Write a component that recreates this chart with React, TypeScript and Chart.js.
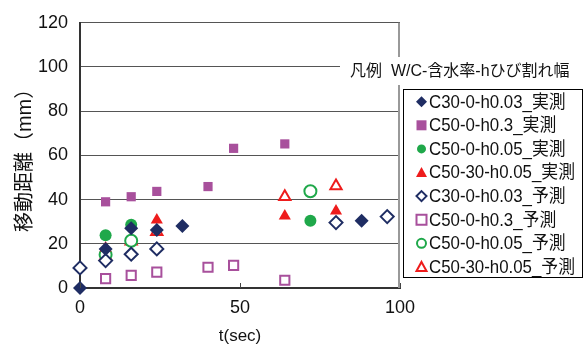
import React, { useEffect, useRef } from "react";
import { Chart, registerables } from "chart.js";

Chart.register(...registerables);

const xTicks = [0, 50, 100];
const yTicks = [0, 20, 40, 60, 80, 100, 120];
const xTitle = "t(sec)";
const yTitle = "移動距離（mm）";
const legendHeader = "凡例  W/C-含水率-hひび割れ幅";

const seriesNames = [
  "C30-0-h0.03_実測",
  "C50-0-h0.3_実測",
  "C50-0-h0.05_実測",
  "C50-30-h0.05_実測",
  "C30-0-h0.03_予測",
  "C50-0-h0.3_予測",
  "C50-0-h0.05_予測",
  "C50-30-h0.05_予測",
];

const c30Meas_t = [0, 8, 16, 24, 32, 88];
const c30Meas_y = [0, 17.7, 27, 26.3, 28, 30.4];
const c50h03Meas_t = [8, 16, 24, 40, 48, 64];
const c50h03Meas_y = [39, 41.3, 43.7, 45.9, 63.2, 65.2];
const c50h005Meas_t = [8, 16, 72];
const c50h005Meas_y = [23.9, 28.6, 30.4];
const c5030Meas_t = [8, 16, 24, 64, 80];
const c5030Meas_y = [18.1, 28.2, 30.8, 32.6, 34.8];
const c30Pred_t = [0, 8, 16, 24, 80, 96];
const c30Pred_y = [9.1, 12.4, 15.3, 17.7, 29.6, 32.3];
const c50h03Pred_t = [8, 16, 24, 40, 48, 64];
const c50h03Pred_y = [4.2, 5.7, 7.2, 9.4, 10.2, 3.5];
const c50h005Pred_t = [8, 16, 72];
const c50h005Pred_y = [15.1, 21.4, 43.8];
const c5030Pred_t = [8, 16, 24, 64, 80];
const c5030Pred_y = [14.2, 21.1, 25.4, 41.3, 46.2];

const NAVY = "#1f2d63";
const PURPLE = "#a8509c";
const GREEN = "#1fa84a";
const RED = "#ee1c1c";

const pts = (t: number[], y: number[]) => t.map((v, i) => ({ x: v, y: y[i] }));

type Style = { color: string; shape: string; filled: boolean; r: number };
const styles: Style[] = [
  { color: NAVY, shape: "rectRot", filled: true, r: 7 },
  { color: PURPLE, shape: "rect", filled: true, r: 6.5 },
  { color: GREEN, shape: "circle", filled: true, r: 6 },
  { color: RED, shape: "triangle", filled: true, r: 7 },
  { color: NAVY, shape: "rectRot", filled: false, r: 6.5 },
  { color: PURPLE, shape: "rect", filled: false, r: 6.5 },
  { color: GREEN, shape: "circle", filled: false, r: 6 },
  { color: RED, shape: "triangle", filled: false, r: 6.5 },
];

const dataLists = [
  pts(c30Meas_t, c30Meas_y),
  pts(c50h03Meas_t, c50h03Meas_y),
  pts(c50h005Meas_t, c50h005Meas_y),
  pts(c5030Meas_t, c5030Meas_y),
  pts(c30Pred_t, c30Pred_y),
  pts(c50h03Pred_t, c50h03Pred_y),
  pts(c50h005Pred_t, c50h005Pred_y),
  pts(c5030Pred_t, c5030Pred_y),
];

const FONT = "'Liberation Sans', Arial, 'Noto Sans CJK JP', sans-serif";

const drawMarker = (ctx: CanvasRenderingContext2D, s: Style, x: number, y: number, r: number) => {
  ctx.save();
  ctx.beginPath();
  if (s.shape === "rectRot") {
    ctx.moveTo(x, y - r);
    ctx.lineTo(x + r, y);
    ctx.lineTo(x, y + r);
    ctx.lineTo(x - r, y);
    ctx.closePath();
  } else if (s.shape === "rect") {
    ctx.rect(x - r, y - r, 2 * r, 2 * r);
  } else if (s.shape === "circle") {
    ctx.arc(x, y, r, 0, Math.PI * 2);
  } else {
    ctx.moveTo(x, y - r);
    ctx.lineTo(x + r, y + r * 0.8);
    ctx.lineTo(x - r, y + r * 0.8);
    ctx.closePath();
  }
  if (s.filled) {
    ctx.fillStyle = s.color;
    ctx.fill();
  } else {
    ctx.fillStyle = "#fff";
    ctx.fill();
    ctx.strokeStyle = s.color;
    ctx.lineWidth = 2;
    ctx.stroke();
  }
  ctx.restore();
};

const decorPlugin = {
  id: "decor",
  afterDraw(chart: any) {
    const ctx: CanvasRenderingContext2D = chart.ctx;
    const a = chart.chartArea;
    const xs = chart.scales.x;
    ctx.save();
    // right border
    ctx.strokeStyle = "#999";
    ctx.lineWidth = 2;
    ctx.beginPath();
    ctx.moveTo(a.right - 1, a.top);
    ctx.lineTo(a.right - 1, a.bottom);
    ctx.stroke();
    // inward ticks on x axis
    ctx.strokeStyle = "#444";
    ctx.lineWidth = 1;
    xTicks.forEach((t) => {
      const px = Math.round(xs.getPixelForValue(t)) + 0.5;
      ctx.beginPath();
      ctx.moveTo(px, a.bottom);
      ctx.lineTo(px, a.bottom - 5);
      ctx.stroke();
    });
    // legend header with white background
    ctx.fillStyle = "#fff";
    ctx.fillRect(340, 57, 246, 28);
    ctx.fillStyle = "#111";
    ctx.font = `16px ${FONT}`;
    ctx.textBaseline = "middle";
    ctx.textAlign = "left";
    ctx.fillText(legendHeader, 350, 72, 224);
    // legend box
    ctx.fillStyle = "#fff";
    ctx.fillRect(403, 89, 179, 188);
    ctx.strokeStyle = "#000";
    ctx.lineWidth = 1;
    ctx.strokeRect(403.5, 89.5, 179, 188);
    ctx.font = `18px ${FONT}`;
    const longest = Math.max(...seriesNames.map((n) => ctx.measureText(n).width));
    const k = Math.min(1, 146 / longest);
    seriesNames.forEach((name, i) => {
      const y = 101.7 + i * 23.6;
      const s = styles[i];
      drawMarker(ctx, s, 421.5, y, s.r - 1.5);
      ctx.save();
      ctx.translate(429, y + 1);
      ctx.scale(k, 1);
      ctx.fillStyle = "#111";
      ctx.font = `18px ${FONT}`;
      ctx.textBaseline = "middle";
      ctx.fillText(name, 0, 0);
      ctx.restore();
    });
    ctx.restore();
  },
};

export default function App() {
  const ref = useRef<HTMLCanvasElement>(null);
  useEffect(() => {
    if (!ref.current) return;
    const chart = new Chart(ref.current, {
      type: "scatter",
      data: {
        datasets: dataLists.map((d, i) => {
          const s = styles[i];
          return {
            label: seriesNames[i],
            data: d,
            pointStyle: s.shape as any,
            pointRadius: s.r,
            pointHoverRadius: s.r,
            backgroundColor: s.filled ? s.color : "#ffffff",
            borderColor: s.color,
            pointBorderWidth: s.filled ? 0 : 2,
            borderWidth: s.filled ? 0 : 2,
            clip: false as any,
          };
        }),
      },
      plugins: [decorPlugin],
      options: {
        animation: false,
        responsive: false,
        maintainAspectRatio: false,
        layout: { padding: { top: 20, right: 186, left: 0, bottom: 0 } },
        plugins: { legend: { display: false }, tooltip: { enabled: false } },
        scales: {
          x: {
            type: "linear",
            min: 0,
            max: 100,
            afterBuildTicks: (sc: any) => {
              sc.ticks = xTicks.map((v) => ({ value: v }));
            },
            afterFit: (sc: any) => {
              sc.height = 59;
            },
            grid: { display: false, drawTicks: false },
            border: { display: true, color: "#333", width: 2 },
            ticks: {
              color: "#111",
              font: { size: 18, family: FONT },
              padding: 9,
              maxRotation: 0,
            },
            title: {
              display: true,
              text: xTitle,
              color: "#111",
              font: { size: 17, family: FONT },
              padding: { top: 0, bottom: 0 },
            },
          },
          y: {
            type: "linear",
            min: 0,
            max: 120,
            afterBuildTicks: (sc: any) => {
              sc.ticks = yTicks.map((v) => ({ value: v }));
            },
            afterFit: (sc: any) => {
              sc.width = 80;
            },
            grid: { color: "#555", lineWidth: 1, drawTicks: false },
            border: { display: true, color: "#333", width: 2 },
            ticks: {
              color: "#111",
              font: { size: 18, family: FONT },
              padding: 12,
            },
            title: {
              display: true,
              text: yTitle,
              color: "#111",
              font: { size: 20, family: FONT },
              padding: { top: 13, bottom: 0 },
            },
          },
        },
      } as any,
    });
    return () => chart.destroy();
  }, []);
  return (
    <div style={{ position: "fixed", left: 0, top: 0, width: 586, height: 347, background: "#fff" }}>
      <canvas ref={ref} width={586} height={347} style={{ width: 586, height: 347 }} />
    </div>
  );
}
